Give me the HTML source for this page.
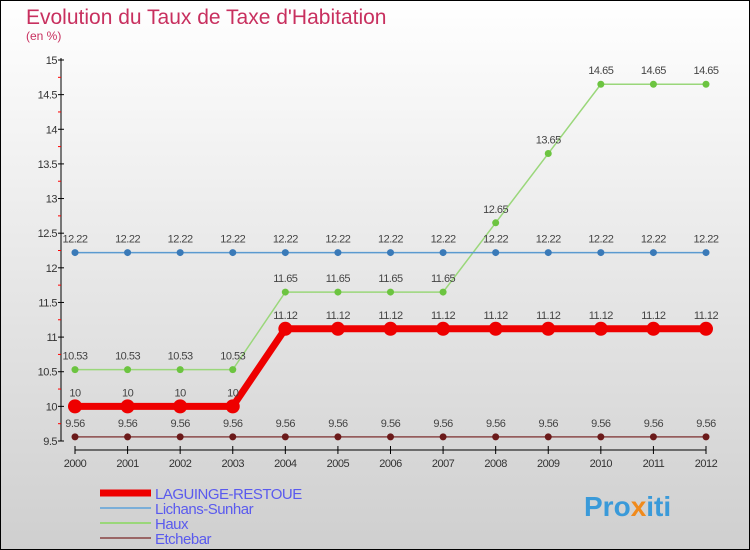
<!DOCTYPE html>
<html><head><meta charset="utf-8"><style>
body{margin:0}
#wrap{width:750px;height:550px;position:relative;overflow:hidden}
svg text{font-family:"Liberation Sans",sans-serif}
</style></head><body>
<div id="wrap">
<svg id="c" width="750" height="550" xmlns="http://www.w3.org/2000/svg">
<defs><linearGradient id="bg" x1="0" y1="0" x2="0" y2="1"><stop offset="0" stop-color="#ffffff"/><stop offset="1" stop-color="#cfcfcf"/></linearGradient></defs>
<rect x="0.5" y="0.5" width="749" height="549" fill="url(#bg)" stroke="#000"/>
<text x="26" y="24" font-size="21" fill="#c8305f">Evolution du Taux de Taxe d'Habitation</text>
<text x="26" y="40" font-size="12" fill="#c8305f">(en %)</text>
<g id="axes"></g><g id="series"></g><g id="legend"></g>
<text x="584" y="516" font-size="28" font-weight="bold" fill="#3a9ad9">Pro<tspan fill="#f08a1c">x</tspan>iti</text>
</svg></div>
<script>
const years=[2000,2001,2002,2003,2004,2005,2006,2007,2008,2009,2010,2011,2012];
const yTicks=[9.5,10,10.5,11,11.5,12,12.5,13,13.5,14,14.5,15];
const laguinge=[10,10,10,10,11.12,11.12,11.12,11.12,11.12,11.12,11.12,11.12,11.12];
const lichans=[12.22,12.22,12.22,12.22,12.22,12.22,12.22,12.22,12.22,12.22,12.22,12.22,12.22];
const haux=[10.53,10.53,10.53,10.53,11.65,11.65,11.65,11.65,12.65,13.65,14.65,14.65,14.65];
const etchebar=[9.56,9.56,9.56,9.56,9.56,9.56,9.56,9.56,9.56,9.56,9.56,9.56,9.56];
const NS="http://www.w3.org/2000/svg";
const x=i=>75+i*(706-75)/12;
const y=v=>441-(v-9.5)*(441-60)/5.5;
function mk(t,a,p){const e=document.createElementNS(NS,t);for(const k in a)e.setAttribute(k,a[k]);p.appendChild(e);return e;}
const ax=document.getElementById('axes');
let e=mk('line',{x1:61,y1:58,x2:61,y2:441,stroke:'#000','stroke-width':1},ax);


e=mk('line',{x1:75,y1:450,x2:706,y2:450,stroke:'#000','stroke-width':1},ax);


yTicks.forEach((v,i)=>{
 mk('line',{x1:58,y1:y(v),x2:64,y2:y(v),stroke:'#000'},ax);
 if(i<yTicks.length-1)mk('line',{x1:58,y1:y(v+0.25),x2:61,y2:y(v+0.25),stroke:'#f00'},ax);
 const t=mk('text',{x:57,y:y(v)+4,'font-size':11,'text-anchor':'end',fill:'#333','letter-spacing':'-0.5'},ax);
 t.textContent=String(v);
 
 
});
years.forEach((yr,i)=>{
 mk('line',{x1:x(i),y1:446,x2:x(i),y2:454,stroke:'#000'},ax);
 const t=mk('text',{x:x(i),y:467,'font-size':11,'text-anchor':'middle',fill:'#333','letter-spacing':'-0.5'},ax);
 t.textContent=yr;
 
 
});
const S=document.getElementById('series');
function series(data,color,w,r,name,dot){
 const g=mk('g',{},S);
 
 
 const pl=mk('polyline',{points:data.map((v,i)=>x(i)+','+y(v)).join(' '),fill:'none',stroke:color,'stroke-width':w},g);
 
 
 data.forEach((v,i)=>{
  const c=mk('circle',{cx:x(i),cy:y(v),r:r,fill:dot},g);
  
  
  const t=mk('text',{x:x(i),y:y(v)-10,'font-size':11,'text-anchor':'middle',fill:'#444','letter-spacing':'-0.5'},g);
  t.textContent=String(v);
  
  
 });
}
series(etchebar,'#8b4a4a',1.5,3.5,'etchebar-series','#6b1a1a');
series(haux,'#9ad77a',1.5,3.5,'haux-series','#6cc440');
series(lichans,'#5a9ad0',1.5,3.5,'lichans-sunhar-series','#3a7ab8');
series(laguinge,'#ee0000',7,7,'laguinge-restoue-series','#ee0000');
const L=document.getElementById('legend');
const items=[['LAGUINGE-RESTOUE','#ee0000',7],['Lichans-Sunhar','#7aaed8',2],['Haux','#9ad77a',2],['Etchebar','#9a6666',2]];
items.forEach((it,i)=>{
 const yy=493+i*15;
 const l=mk('line',{x1:100,y1:yy,x2:151,y2:yy,stroke:it[1],'stroke-width':it[2]},L);
 
 
 const t=mk('text',{x:155,y:yy+6,'font-size':15,fill:'#5a5aee','letter-spacing':'-0.5'},L);
 t.textContent=it[0];
 
 
});
</script>
</body></html>
